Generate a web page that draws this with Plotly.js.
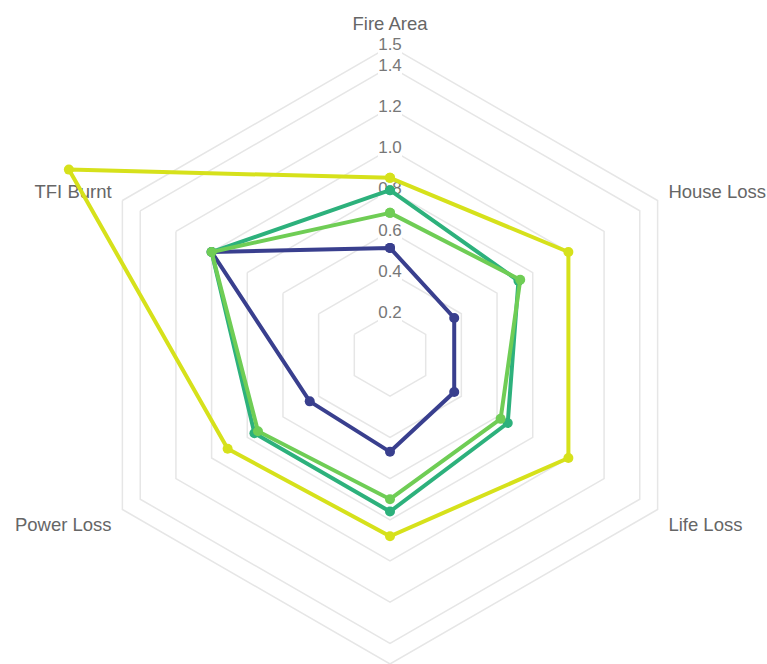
<!DOCTYPE html>
<html>
<head>
<meta charset="utf-8">
<script src="https://cdn.plot.ly/plotly-3.0.1.min.js"></script>
<style>
  html, body { margin: 0; padding: 0; background: #ffffff; }
  #chart { width: 767px; height: 664px; }
</style>
</head>
<body>
<div id="chart"></div>
<script>
// Axis categories (clockwise from top); the bottom one is cut off in the reference
const categories = ["Fire Area", "House Loss", "Life Loss", "Economic Loss", "Power Loss", "TFI Burnt"];

// Series values
const seriesNavy  = [0.52, 0.36, 0.36, 0.47, 0.45, 1.00];
const seriesTeal  = [0.80, 0.72, 0.66, 0.76, 0.76, 1.00];
const seriesLight = [0.69, 0.73, 0.62, 0.70, 0.74, 1.00];
const seriesYellow= [0.86, 1.00, 1.00, 0.88, 0.91, 1.80];

// Radial ticks
const tickValues = [0.2, 0.4, 0.6, 0.8, 1.0, 1.2, 1.4, 1.5];
const tickLabels = ["0.2", "0.4", "0.6", "0.8", "1.0", "1.2", "1.4", "1.5"];

const FONT = "Liberation Sans, Arial, Helvetica, sans-serif";

function closed(arr) { return arr.concat([arr[0]]); }

function series(values, color) {
  return {
    type: "scatterpolar",
    mode: "lines+markers",
    r: closed(values),
    theta: closed(categories),
    line: { color: color, width: 4 },
    marker: { color: color, size: 10 },
    cliponaxis: false,
    hoverinfo: "skip",
    showlegend: false
  };
}

const tickTrace = {
  type: "scatterpolar",
  mode: "markers+text",
  r: tickValues,
  theta: tickValues.map(() => categories[0]),
  text: tickLabels,
  textposition: "middle center",
  textfont: { family: FONT, size: 17, color: "#777777" },
  marker: { symbol: "square", size: 24, color: "#ffffff" },
  cliponaxis: false,
  hoverinfo: "skip",
  showlegend: false
};

const data = [
  tickTrace,
  series(seriesYellow, "#d6e11b"),
  series(seriesNavy, "#393f8e"),
  series(seriesTeal, "#2db17c"),
  series(seriesLight, "#6fcd55")
];

const layout = {
  width: 767,
  height: 664,
  margin: { l: 13, r: 0, t: 46, b: 0 },
  paper_bgcolor: "#ffffff",
  showlegend: false,
  font: { family: FONT, color: "#666666" },
  polar: {
    bgcolor: "#ffffff",
    gridshape: "linear",
    domain: { x: [0, 1], y: [0, 1] },
    radialaxis: {
      range: [0, 1.5],
      tickvals: tickValues,
      showticklabels: false,
      ticks: "",
      showline: false,
      gridcolor: "#e6e6e6",
      gridwidth: 1.5,
      angle: 90,
      layer: "below traces"
    },
    angularaxis: {
      direction: "clockwise",
      rotation: 90,
      showgrid: false,
      showline: true,
      linecolor: "#e6e6e6",
      linewidth: 1.5,
      ticks: "outside",
      ticklen: 8,
      tickcolor: "rgba(0,0,0,0)",
      tickfont: { family: FONT, size: 18.5, color: "#666666" },
      layer: "below traces"
    }
  }
};

Plotly.newPlot("chart", data, layout, { displayModeBar: false, staticPlot: true }).then(function (gd) {
  // Let the series that exceed the 1.5 ring (TFI Burnt) extend past the outer hexagon
  gd.querySelectorAll(".polarlayer .trace [clip-path], .polarlayer .frontplot[clip-path]").forEach(function (el) {
    el.removeAttribute("clip-path");
  });
  gd.querySelectorAll(".polarlayer .trace .point").forEach(function (el) {
    el.removeAttribute("display");
  });
});
</script>
</body>
</html>
